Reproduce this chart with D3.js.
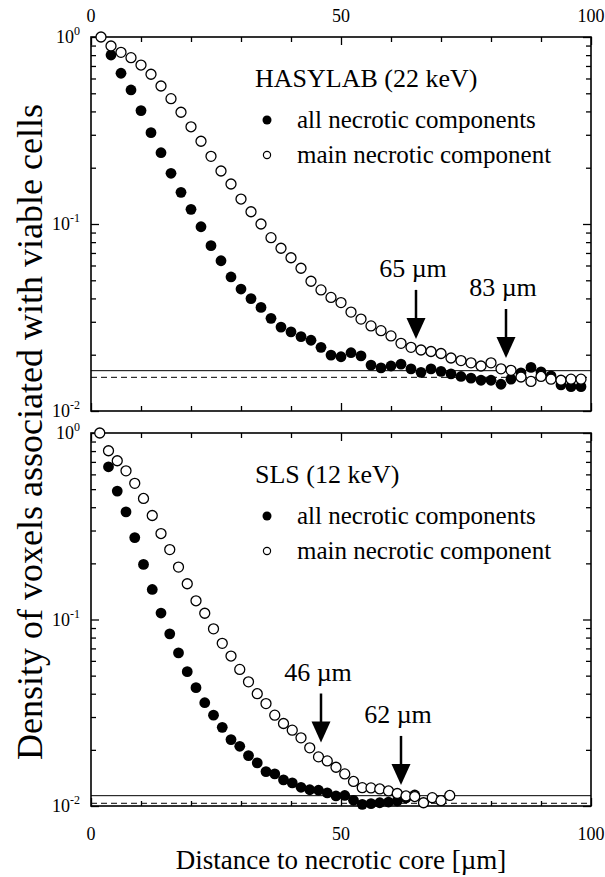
<!DOCTYPE html>
<html>
<head>
<meta charset="utf-8">
<script src="https://cdn.jsdelivr.net/npm/d3@7"></script>
<style>
  body { margin: 0; background: #fff; }
  text { font-family: "Liberation Serif", "Times New Roman", serif; fill: #000; }
</style>
</head>
<body>
<svg id="chart" width="605" height="877"></svg>
<script>
// ---- HASYLAB (22 keV): voxel density vs. distance to necrotic core ----
const hasylabMainDist = [2, 4, 6, 8, 10, 12, 14, 16, 18, 20, 22, 24, 26, 28, 30, 32, 34, 36, 38, 40,
  42, 44, 46, 48, 50, 52, 54, 56, 58, 60, 62, 64, 66, 68, 70, 72, 74, 76, 78, 80,
  82, 84, 86, 88, 90, 92, 94, 96, 98];
const hasylabMain = [1.0, 0.895, 0.828, 0.775, 0.708, 0.632, 0.547, 0.468, 0.396, 0.331,
  0.277, 0.230, 0.192, 0.1636, 0.136, 0.1163, 0.100, 0.0845, 0.0742, 0.0660,
  0.0580, 0.0494, 0.0444, 0.0405, 0.0380, 0.0338, 0.0310, 0.0285, 0.0269, 0.0252,
  0.0230, 0.0219, 0.0212, 0.0208, 0.0203, 0.0192, 0.0186, 0.0181, 0.0174, 0.0181,
  0.0168, 0.0165, 0.0152, 0.0144, 0.0153, 0.0148, 0.0146, 0.0148, 0.0148];
const hasylabAllDist = [4, 6, 8, 10, 12, 14, 16, 18, 20, 22, 24, 26, 28, 30, 32, 34, 36, 38, 40,
  42, 44, 46, 48, 50, 52, 54, 56, 58, 60, 62, 64, 66, 68, 70, 72, 74, 76, 78, 80,
  82, 84, 86, 88, 90, 92, 94, 96, 98];
const hasylabAll = [0.801, 0.640, 0.521, 0.404, 0.308, 0.2406, 0.1867, 0.1477, 0.1198,
  0.0967, 0.0766, 0.0636, 0.0521, 0.0449, 0.0399, 0.0358, 0.0313, 0.0281, 0.0265,
  0.0250, 0.0239, 0.0219, 0.0199, 0.0195, 0.0205, 0.0197, 0.0176, 0.0170, 0.0174,
  0.0178, 0.0168, 0.0161, 0.0168, 0.0163, 0.0158, 0.0153, 0.0150, 0.0146, 0.0146,
  0.0139, 0.0148, 0.0160, 0.0171, 0.0162, 0.0154, 0.0138, 0.0135, 0.0135];
const hasylabLevels = [0.01643, 0.01514];      // [solid, dashed] reference levels
const hasylabMarkDist = [65, 83];              // arrow positions (µm)
const hasylabMarkTip = [0.0243, 0.0192];       // density at the arrow tips

// ---- SLS (12 keV) ----
const slsMainDist = [1.75, 3.5, 5.25, 7, 8.75, 10.5, 12.25, 14, 15.75, 17.5, 19.25, 21, 22.75,
  24.5, 26.25, 28, 29.75, 31.5, 33.25, 35, 36.75, 38.5, 40.25, 42, 43.75, 45.5, 47.25,
  49, 50.75, 52.5, 54.25, 56, 57.75, 59.5, 61.25, 63, 64.75, 66.5, 68.25, 70, 71.75];
const slsMain = [1.0, 0.803, 0.710, 0.627, 0.537, 0.4456, 0.361, 0.289, 0.237, 0.191,
  0.1555, 0.126, 0.108, 0.0891, 0.0745, 0.0637, 0.054, 0.0463, 0.0400, 0.0354,
  0.0307, 0.0277, 0.0255, 0.0232, 0.0205, 0.01834, 0.01745, 0.01614, 0.01486, 0.01354,
  0.01254, 0.0125, 0.01234, 0.01204, 0.01167, 0.01132, 0.01124, 0.01041, 0.01108, 0.01068,
  0.01139];
const slsAllDist = [3.5, 5.25, 7, 8.75, 10.5, 12.25, 14, 15.75, 17.5, 19.25, 21, 22.75,
  24.5, 26.25, 28, 29.75, 31.5, 33.25, 35, 36.75, 38.5, 40.25, 42, 43.75, 45.5, 47.25,
  49, 50.75, 52.5, 54.25, 56, 57.75, 59.5, 61.25, 63, 64.75];
const slsAll = [0.659, 0.488, 0.3775, 0.2749, 0.1975, 0.1449, 0.1083, 0.0838, 0.0662, 0.0525,
  0.0431, 0.0358, 0.0307, 0.0264, 0.0227, 0.0209, 0.01864, 0.01703, 0.01529, 0.01486,
  0.0138, 0.0133, 0.0126, 0.01222, 0.01215, 0.01175, 0.01132, 0.01139, 0.01073, 0.01021,
  0.01029, 0.01041, 0.0105, 0.01064, 0.01104, 0.01146];
const slsLevels = [0.01136, 0.01034];
const slsMarkDist = [46, 62];
const slsMarkTip = [0.0219, 0.01297];

// ---- axis labels ----
const xTickLabels = [0, 50, 100];
const yDecades = [0, -1, -2];
const legendLabels = ["all necrotic components", "main necrotic component"];
const xTitle = "Distance to necrotic core [µm]";
const yTitle = "Density of voxels associated with viable cells";

const svg = d3.select("#chart");
svg.append("rect").attr("width", 605).attr("height", 877).attr("fill", "#fff");

const left = 91, right = 591;
const x = d3.scaleLinear().domain([0, 100]).range([left, right]);

const panels = [
  { title: "HASYLAB (22 keV)", top: 37, bottom: 411, topLabels: true, bottomLabels: false,
    mainDist: hasylabMainDist, main: hasylabMain, allDist: hasylabAllDist, all: hasylabAll,
    levels: hasylabLevels, markDist: hasylabMarkDist, markTip: hasylabMarkTip },
  { title: "SLS (12 keV)", top: 433, bottom: 806, topLabels: false, bottomLabels: true,
    mainDist: slsMainDist, main: slsMain, allDist: slsAllDist, all: slsAll,
    levels: slsLevels, markDist: slsMarkDist, markTip: slsMarkTip }
];

const majorX = [0, 50, 100];
const minorX = d3.range(0, 101, 10).filter(v => !majorX.includes(v));

panels.forEach(p => {
  const y = d3.scaleLog().domain([0.01, 1]).range([p.bottom, p.top]);
  const g = svg.append("g");
  const allTicks = y.ticks();
  const majorY = yDecades.map(e => Math.pow(10, e));
  const minorY = allTicks.filter(v => !majorY.some(m => Math.abs(m - v) / m < 1e-6));

  // inward ticks on all four sides
  const tickAxis = (axis, transform, values, size) => {
    const a = g.append("g").attr("transform", transform)
      .call(axis.tickValues(values).tickSize(-size).tickSizeOuter(0).tickFormat(""));
    a.select(".domain").remove();
    a.selectAll("line").attr("stroke", "#000").attr("stroke-width", 1.3);
  };
  tickAxis(d3.axisTop(x), `translate(0,${p.top})`, minorX, 5);
  tickAxis(d3.axisTop(x), `translate(0,${p.top})`, majorX, 8);
  tickAxis(d3.axisBottom(x), `translate(0,${p.bottom})`, minorX, 5);
  tickAxis(d3.axisBottom(x), `translate(0,${p.bottom})`, majorX, 8);
  tickAxis(d3.axisLeft(y), `translate(${left},0)`, minorY, 5);
  tickAxis(d3.axisLeft(y), `translate(${left},0)`, majorY, 8);
  tickAxis(d3.axisRight(y), `translate(${right},0)`, minorY, 5);
  tickAxis(d3.axisRight(y), `translate(${right},0)`, majorY, 8);

  // x tick labels
  if (p.topLabels) {
    g.selectAll(".xtl").data(xTickLabels).join("text")
      .attr("x", d => x(d)).attr("y", p.top - 15)
      .attr("text-anchor", "middle").attr("font-size", 18).text(d => d);
  }
  if (p.bottomLabels) {
    g.selectAll(".xbl").data(xTickLabels).join("text")
      .attr("x", d => x(d)).attr("y", p.bottom + 34)
      .attr("text-anchor", "middle").attr("font-size", 18).text(d => d);
  }

  // y tick labels 10^n
  yDecades.forEach(e => {
    const t = g.append("text").attr("x", left - 11).attr("y", y(Math.pow(10, e)) + 6)
      .attr("text-anchor", "end").attr("font-size", 18);
    t.append("tspan").text("10");
    t.append("tspan").attr("dy", -8).attr("font-size", 12).text(e);
  });

  // reference levels
  g.append("line").attr("x1", left).attr("x2", right)
    .attr("y1", y(p.levels[0])).attr("y2", y(p.levels[0]))
    .attr("stroke", "#000").attr("stroke-width", 1);
  g.append("line").attr("x1", left).attr("x2", right)
    .attr("y1", y(p.levels[1])).attr("y2", y(p.levels[1]))
    .attr("stroke", "#000").attr("stroke-width", 1).attr("stroke-dasharray", "6,4");

  // frame
  g.append("rect").attr("x", left).attr("y", p.top)
    .attr("width", right - left).attr("height", p.bottom - p.top)
    .attr("fill", "none").attr("stroke", "#000").attr("stroke-width", 1.6);

  // data: all necrotic components (filled), then main component (open) on top
  g.selectAll(".all").data(p.allDist.map((d, i) => [d, p.all[i]])).join("circle")
    .attr("cx", d => x(d[0])).attr("cy", d => y(d[1])).attr("r", 5.4)
    .attr("fill", "#000");
  g.selectAll(".main").data(p.mainDist.map((d, i) => [d, p.main[i]])).join("circle")
    .attr("cx", d => x(d[0])).attr("cy", d => y(d[1])).attr("r", 5)
    .attr("fill", "#fff").attr("stroke", "#000").attr("stroke-width", 1.3);

  // arrows with distance labels
  p.markDist.forEach((d, i) => {
    const ax = x(d), tip = y(p.markTip[i]);
    g.append("line").attr("x1", ax).attr("x2", ax).attr("y1", tip - 49).attr("y2", tip - 18)
      .attr("stroke", "#000").attr("stroke-width", 2.5);
    g.append("path")
      .attr("d", `M${ax - 9.5},${tip - 21}L${ax + 9.5},${tip - 21}L${ax},${tip}Z`)
      .attr("fill", "#000");
    g.append("text").attr("x", ax - 3).attr("y", tip - 62)
      .attr("text-anchor", "middle").attr("font-size", 26).text(`${d} µm`);
  });

  // legend
  g.append("text").attr("x", 255).attr("y", p.top + 50).attr("font-size", 26).text(p.title);
  g.append("circle").attr("cx", 267).attr("cy", p.top + 83).attr("r", 4.5).attr("fill", "#000");
  g.append("circle").attr("cx", 267).attr("cy", p.top + 118).attr("r", 3.6)
    .attr("fill", "#fff").attr("stroke", "#000").attr("stroke-width", 1.2);
  g.append("text").attr("x", 297).attr("y", p.top + 91).attr("font-size", 25).text(legendLabels[0]);
  g.append("text").attr("x", 297).attr("y", p.top + 126).attr("font-size", 25).text(legendLabels[1]);
});

// axis titles
svg.append("text").attr("x", 341).attr("y", 869).attr("text-anchor", "middle")
  .attr("font-size", 27).text(xTitle);
svg.append("text").attr("transform", "translate(42,432) rotate(-90)")
  .attr("text-anchor", "middle").attr("font-size", 36).text(yTitle);
</script>
</body>
</html>
